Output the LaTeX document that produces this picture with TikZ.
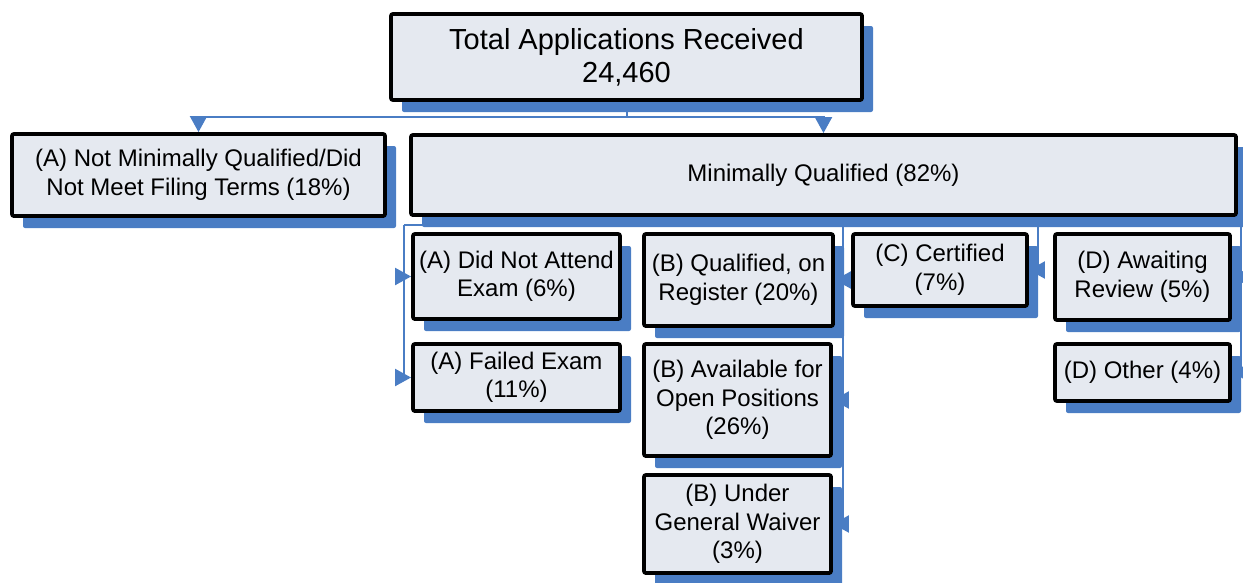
\documentclass[tikz,border=0pt]{standalone}
\usepackage{fontspec}
\setmainfont{Liberation Sans}
\usetikzlibrary{arrows.meta,shadows}
\definecolor{boxfill}{RGB}{229,233,240}
\definecolor{shblue}{RGB}{74,125,196}
\pgfdeclarelayer{bg}
\pgfsetlayers{bg,main}
\begin{document}
\begin{tikzpicture}[x=1pt,y=-1pt,
  orgbox/.style={draw=black, line width=3.8pt, fill=boxfill, rounded corners=2pt,
    inner sep=0pt, align=center, font=\fontsize{24}{28.5}\selectfont,
    general shadow={fill=shblue, shadow xshift=11pt, shadow yshift=-12pt, rounded corners=0pt}},
  conn/.style={draw=shblue, line width=2pt},
  arr/.style={-{Triangle[length=16pt,width=17pt]}}
]
\useasboundingbox (0,0) rectangle (1243,582);

\node[orgbox, minimum width=471pt, minimum height=86pt, font=\fontsize{29}{33}\selectfont] (top) at (626.5,57) {Total Applications Received\\24,460};
\node[orgbox, minimum width=373pt, minimum height=82pt] (nmq) at (198.5,175) {(A) Not Minimally Qualified/Did\\Not Meet Filing Terms (18\%)};
\node[orgbox, minimum width=825pt, minimum height=80pt] (mq) at (823.5,175) {Minimally Qualified (82\%)};
\node[orgbox, minimum width=207pt, minimum height=85pt] (a1) at (516.5,276.5) {(A) Did Not Attend\\Exam (6\%)};
\node[orgbox, minimum width=207pt, minimum height=67pt] (a2) at (516.5,377.5) {(A) Failed Exam\\(11\%)};
\node[orgbox, minimum width=189pt, minimum height=92pt] (b1) at (738.5,280) {(B) Qualified, on\\Register (20\%)};
\node[orgbox, minimum width=187pt, minimum height=112pt] (b2) at (737.5,400) {(B) Available for\\Open Positions\\(26\%)};
\node[orgbox, minimum width=187pt, minimum height=98pt] (b3) at (737.5,524) {(B) Under\\General Waiver\\(3\%)};
\node[orgbox, minimum width=174pt, minimum height=72pt] (c1) at (940,270) {(C) Certified\\(7\%)};
\node[orgbox, minimum width=175pt, minimum height=86pt] (d1) at (1142.5,277) {(D) Awaiting\\Review (5\%)};
\node[orgbox, minimum width=175pt, minimum height=57pt] (d2) at (1142.5,372.5) {(D) Other (4\%)};

\begin{pgfonlayer}{bg}
\coordinate (tj) at (626.5,117);
\draw[conn] (top.south) -- (tj);
\draw[conn,arr] (tj) -| (nmq.north);
\draw[conn,arr] (tj) -| (mq.north);
\coordinate (mj) at (823.5,225);
\coordinate (busL) at (404,225);
\coordinate (busR) at (1241,225);
\draw[conn] (mq.south) -- (mj);
\draw[conn] (busL) -- (busR);
% A branch
\draw[conn] (busL) -- (busL |- a2.west);
\draw[conn,arr] (busL |- a1.west) -- (a1.west);
\draw[conn,arr] (busL |- a2.west) -- (a2.west);
% B branch
\coordinate (bB) at (843,225);
\draw[conn] (bB) -- (bB |- b3.east);
\draw[conn,arr] (bB |- b1.east) -- (b1.east);
\draw[conn,arr] (bB |- b2.east) -- (b2.east);
\draw[conn,arr] (bB |- b3.east) -- (b3.east);
% C branch
\coordinate (bC) at (1038,225);
\draw[conn] (bC) -- (bC |- c1.east);
\draw[conn,arr] (bC |- c1.east) -- (c1.east);
% D branch
\coordinate (bD) at (1241,225);
\draw[conn] (bD) -- (bD |- d2.east);
\draw[conn,arr] (bD |- d1.east) -- (d1.east);
\draw[conn,arr] (bD |- d2.east) -- (d2.east);
\end{pgfonlayer}
\end{tikzpicture}
\end{document}
